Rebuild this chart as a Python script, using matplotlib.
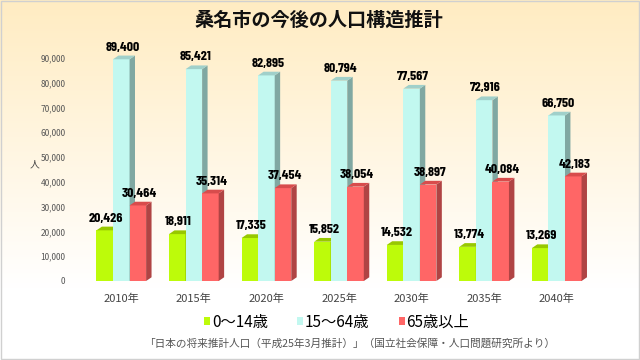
import matplotlib.pyplot as plt
import numpy as np
from matplotlib.patches import Polygon, Rectangle

plt.rcParams['font.family'] = ['Noto Sans CJK JP', 'DejaVu Sans']

years = ["2010年", "2015年", "2020年", "2025年", "2030年", "2035年", "2040年"]
young = [20426, 18911, 17335, 15852, 14532, 13774, 13269]
working = [89400, 85421, 82895, 80794, 77567, 72916, 66750]
old = [30464, 35314, 37454, 38054, 38897, 40084, 42183]
series_names = ["0～14歳", "15～64歳", "65歳以上"]

face = ["#BDFB0A", "#C2F8F0", "#FF6666"]
side = ["#7FA800", "#80A8A2", "#B04444"]
top = ["#98C800", "#A0D0CA", "#D84C4C"]

fig = plt.figure(figsize=(6.4, 3.6), dpi=100)

# background gradient
bg = fig.add_axes([0, 0, 1, 1], zorder=-10)
g = np.linspace(0, 1, 360)
g = np.clip(g / 0.80, 0, 1)
c_top = np.array([255, 236, 194]) / 255
c_bot = np.array([255, 255, 255]) / 255
img = (c_top[None, :] * (1 - g[:, None]) + c_bot[None, :] * g[:, None])
bg.imshow(img[:, None, :], aspect='auto', extent=[0, 1, 0, 1])
bg.add_patch(Rectangle((0.001, 0.002), 0.997, 0.996, fill=False, ec="#D0D0D0", lw=1))
bg.set_axis_off()

ax = fig.add_axes([85 / 640, 1 - 281 / 360, (593 - 85) / 640, (281 - 33) / 360])
ax.set_facecolor('none')
for s in ax.spines.values():
    s.set_visible(False)

x = np.arange(len(years))
w = 0.228
dx = 0.075
dy = 1500
offsets = [-w, 0, w]
for k, vals in enumerate([young, working, old]):
    xs = x + offsets[k]
    ax.bar(xs, vals, width=w, color=face[k], zorder=3 + k, label=series_names[k])
    for xi, v in zip(xs, vals):
        r = xi + w / 2
        l = xi - w / 2
        ax.add_patch(Polygon([(r, 0), (r + dx, dy), (r + dx, v + dy), (r, v)],
                             closed=True, fc=side[k], ec='none', zorder=3 + k))
        ax.add_patch(Polygon([(l, v), (l + dx, v + dy), (r + dx, v + dy), (r, v)],
                             closed=True, fc=top[k], ec='none', zorder=3 + k))
        ax.text(xi + 0.02, v + dy + 1200, f"{v:,}", ha='center', va='bottom',
                fontsize=10, fontweight='bold', color='black',
                family=['Barlow Condensed', 'DejaVu Sans'], zorder=10)

ax.set_xlim(-0.5, 6.5)
ax.set_ylim(0, 100000)
ax.set_yticks(np.arange(0, 90001, 10000))
ax.set_yticklabels([f"{t:,}" for t in range(0, 90001, 10000)])
ax.set_xticks(x)
ax.set_xticklabels(years)
ax.tick_params(axis='y', length=0, labelsize=6, labelcolor='#555555', pad=14)
ax.tick_params(axis='x', length=0, labelsize=8, labelcolor='#444444', pad=9)
ax.set_ylabel("人", rotation=0, fontsize=7, color='#444444', labelpad=14)
ax.yaxis.set_label_coords(-0.1, 0.45)

fig.text(0.498, 0.944, "桑名市の今後の人口構造推計", ha='center', va='center',
         fontsize=13.8, fontweight='bold', color='#111111')

handles = [Rectangle((0, 0), 1, 1, fc=c) for c in face]
fig.legend(handles, series_names, loc='center', bbox_to_anchor=(0.526, 0.105), ncol=3,
           frameon=False, fontsize=11, handlelength=0.4, handleheight=0.4,
           handletextpad=0.12, columnspacing=1.9)

fig.text(0.546, 0.047, "「日本の将来推計人口（平成25年3月推計）」（国立社会保障・人口問題研究所より）",
         ha='center', va='center', fontsize=7.7, color='#555555')

fig.savefig("out.png", dpi=100)
